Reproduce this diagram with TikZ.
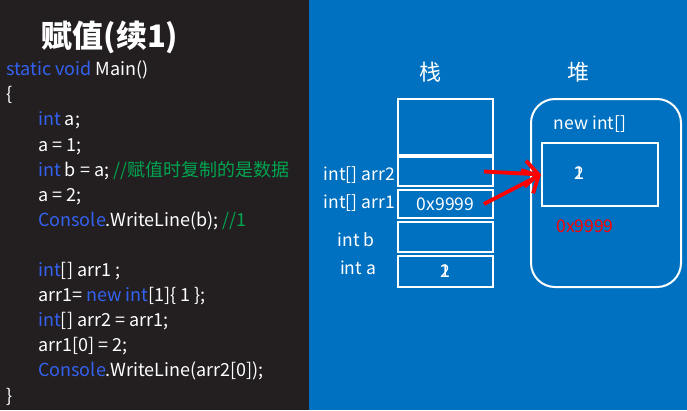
\documentclass[tikz,border=0pt]{standalone}
\usepackage{fontspec}
\setmainfont{Noto Sans CJK SC}
\usepackage{tikz}
\usetikzlibrary{arrows.meta, positioning}

\definecolor{darkbg}{RGB}{35,31,32}
\definecolor{panelblue}{RGB}{0,112,192}
\definecolor{kwblue}{RGB}{52,98,240}
\definecolor{cmtgreen}{RGB}{0,165,80}
\newcommand{\kw}[1]{\textcolor{kwblue}{#1}}
\newcommand{\cmt}[1]{\textcolor{cmtgreen}{#1}}
\newcommand{\ind}{\hspace*{32pt}}
\newcommand{\twoval}{{\ooalign{1\cr2\cr}}}

\begin{document}
\begin{tikzpicture}[x=1pt, y=-1pt,
      cell/.style={draw=white, line width=2pt, minimum width=95pt,
                   inner sep=0pt, text=white, font=\fontsize{17.5}{17.5}\selectfont},
      lbl/.style={text=white, inner sep=0pt, font=\fontsize{17.5}{17.5}\selectfont},
      ptr/.style={-{Straight Barb[length=13pt, width=26pt]}, red, line width=3.8pt}]

    \useasboundingbox (0,0) rectangle (687,410);
    \fill[darkbg] (0,0) rectangle (309,410);
    \fill[panelblue] (309,0) rectangle (687,410);

    % code panel
    \node[text=white, font=\bfseries\fontsize{31}{31}\selectfont] (title) at (110,37) {赋值(续1)};
    \node[text=white, anchor=base west, inner sep=0pt, align=left,
          font=\fontsize{18}{25.1}\selectfont] (code) at (6,402)
         {\kw{static void} Main()\\
          \{\\
          \ind\kw{int} a;\\
          \ind a = 1;\\
          \ind\kw{int} b = a; \cmt{//赋值时复制的是数据}\\
          \ind a = 2;\\
          \ind\kw{Console}.WriteLine(b); \cmt{//1}\\
          \mbox{}\\
          \ind\kw{int}[] arr1 ;\\
          \ind arr1= \kw{new} \kw{int}[1]\{ 1 \};\\
          \ind\kw{int}[] arr2 = arr1;\\
          \ind arr1[0] = 2;\\
          \ind\kw{Console}.WriteLine(arr2[0]);\\
          \}};

    % stack
    \node[lbl, font=\fontsize{22}{22}\selectfont] (stack) at (430,72) {栈};
    \node[cell, minimum height=56pt] (top)  at (445.5,127)   {};
    \node[cell, minimum height=29pt] (arr2) at (445.5,171.5) {};
    \node[cell, minimum height=28pt] (arr1) at (445.5,204)   {0x9999};
    \node[cell, minimum height=30pt] (b)    at (445.5,237)   {};
    \node[cell, minimum height=31pt] (a)    at (445.5,271.5) {\twoval};

    \node[lbl, anchor=east] (larr2) at (395,175) {int[] arr2};
    \node[lbl, anchor=east] (larr1) at (395,203) {int[] arr1};
    \node[lbl] (lb) at (356,240) {int b};
    \node[lbl] (la) at (358,268) {int a};

    % heap
    \node[lbl, font=\fontsize{22}{22}\selectfont] (heap) at (578,72) {堆};
    \node[draw=white, line width=2pt, rounded corners=24pt,
          minimum width=150pt, minimum height=188pt] (heapbox) at (606,193) {};
    \node[lbl] (newint) at (590,124) {new int[]};
    \node[cell, minimum width=116pt, minimum height=63pt] (elem) at (600,174.5) {};
    \node[lbl] (elemval) at (579,173) {\twoval};
    \node[lbl, text=red] (addr) at (585,226) {0x9999};

    \draw[ptr] ([xshift=-10pt]arr2.east) -- (elem.west);
    \draw[ptr] ([xshift=-10pt]arr1.east) -- (elem.west);
  \end{tikzpicture}
\end{document}
